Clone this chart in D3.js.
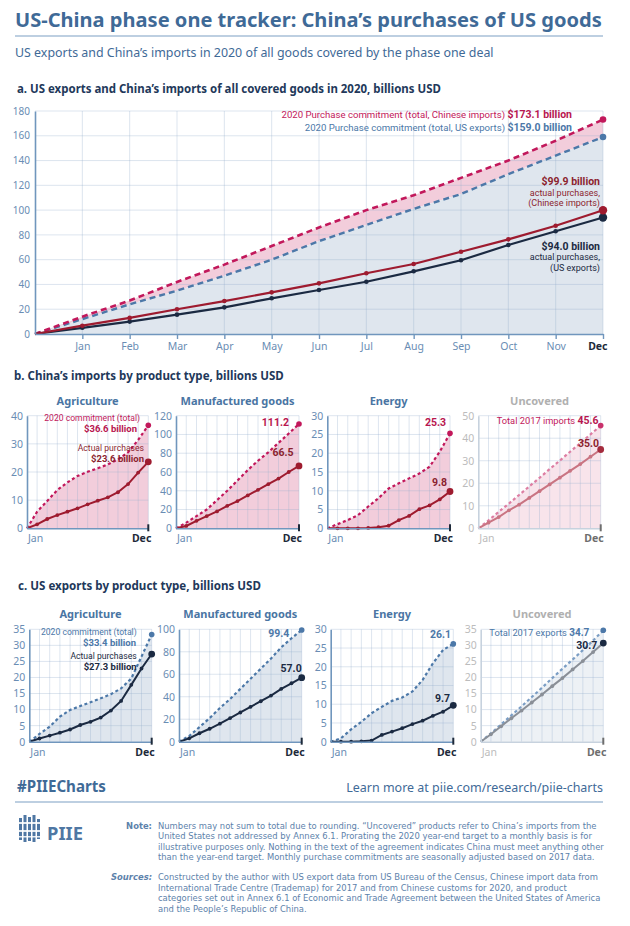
<!DOCTYPE html>
<html><head><meta charset="utf-8">
<script src="https://cdn.jsdelivr.net/npm/d3@7"></script>
<style>body{margin:0;background:#fff}svg{display:block}text{font-family:"Noto Sans",sans-serif}</style>
</head><body><svg id="c" width="630" height="926"></svg>
<script>
// ---------- DATA ----------
const months = ["Jan","Feb","Mar","Apr","May","Jun","Jul","Aug","Sep","Oct","Nov","Dec"];
// Panel a (cumulative, billions USD)
const aImportsCommit = [14, 27, 42, 56, 71, 86, 100, 112, 126, 140, 156, 173.1];
const aExportsCommit = [12, 24, 35, 47, 60, 75, 88, 101, 113, 129, 144, 159.0];
const aImportsActual = [6.7, 13, 20, 26.6, 33.6, 40.9, 49, 56.5, 66.4, 76.4, 87.4, 99.9];
const aExportsActual = [5, 10, 15.6, 21.5, 28.8, 35.5, 42.2, 50.6, 59.5, 71.8, 82.9, 94.0];
const aYTicks = [0,20,40,60,80,100,120,140,160,180];
// Panel b: China's imports by product type
const bAgriCommit  = [5.9, 9.7, 13.6, 16.3, 18.6, 20.1, 21.3, 22.7, 24.5, 27, 31.4, 36.6];
const bAgriActual  = [1.4, 3.3, 4.7, 5.9, 7.1, 8.5, 9.8, 11, 12.8, 15.7, 19.8, 23.6];
const bManuCommit  = [6, 13, 20, 30, 40, 51, 62, 72, 81, 91, 101, 111.2];
const bManuActual  = [2.5, 8, 13, 18, 24, 29, 35, 41, 47, 53, 60, 66.5];
const bEnerCommit  = [1.1, 2.2, 3.5, 5.8, 8, 10.6, 12, 13.3, 14.6, 16.4, 20.4, 25.3];
const bEnerActual  = [0, 0, 0, 0.1, 0.3, 0.7, 2.2, 3.3, 5.1, 6.1, 7.7, 9.8];
const bUncovTotal  = [3.5, 7.3, 11, 14.8, 18.6, 22.4, 26.3, 30.1, 34, 37.8, 41.7, 45.6];
const bUncovActual = [2.5, 5, 8, 10.5, 13.5, 16.5, 19.5, 22.5, 25.5, 28.5, 31.8, 35.0];
// Panel c: US exports by product type
const cAgriCommit  = [2.4, 4.7, 7.8, 9.9, 11.1, 12.3, 13.5, 14.8, 16.6, 19.7, 26.5, 33.4];
const cAgriActual  = [1, 1.9, 2.8, 3.8, 5.2, 6.2, 7.5, 9.7, 12.7, 17.7, 22.8, 27.3];
const cManuCommit  = [5, 13, 21, 30, 38, 47, 56, 65, 74, 84, 92, 99.4];
const cManuActual  = [3, 7.5, 11.5, 16, 21, 26, 31, 36, 41, 47, 52, 57.0];
const cEnerCommit  = [0.9, 3.3, 5.3, 7.6, 9.3, 10.9, 11.8, 13.4, 16.5, 20.9, 24.5, 26.1];
const cEnerActual  = [0, 0, 0.1, 0.3, 1.8, 2.7, 3.6, 4.7, 5.6, 6.9, 8.0, 9.7];
const cUncovTotal  = [2.6, 5.4, 8.2, 11, 13.9, 16.8, 19.8, 22.7, 25.6, 28.5, 31.5, 34.7];
const cUncovActual = [2.3, 4.8, 7.3, 9.7, 12.2, 14.7, 17.3, 19.8, 22.5, 25.1, 27.9, 30.7];

const noteLines = [
 "Numbers may not sum to total due to rounding. \u201CUncovered\u201D products refer to China\u2019s imports from the",
 "United States not addressed by Annex 6.1. Prorating the 2020 year-end target to a monthly basis is for",
 "illustrative purposes only. Nothing in the text of the agreement indicates China must meet anything other",
 "than the year-end target. Monthly purchase commitments are seasonally adjusted based on 2017 data."];
const sourceLines = [
 "Constructed by the author with US export data from US Bureau of the Census, Chinese import data from",
 "International Trade Centre (Trademap) for 2017 and from Chinese customs for 2020, and product",
 "categories set out in Annex 6.1 of Economic and Trade Agreement between the United States of America",
 "and the People\u2019s Republic of China."];

// ---------- STYLE ----------
const TITLE="#3f6a97", HEAD="#22385a", AXIS="#7096bd", TICK="#6a8db4";
const MAG="#c2185b", MAGT="#b8164f", RED="#9e1b2f", REDT="#8b1f2f", NAVY="#1b2a42", BLUE="#4c78a8";
const PINK="#f2cddb", BG="#dfe6ee", GRID="rgba(150,175,205,0.32)";
const ANNF="Roboto, sans-serif", NOTEF="'DejaVu Sans', sans-serif";

const svg=d3.select("#c");
svg.append("rect").attr("width",630).attr("height",926).attr("fill","#fff");

function txt(g,x,y,s,o={}){
  const t=g.append("text").attr("x",x).attr("y",y).text(s)
    .attr("font-size",o.size||10).attr("font-weight",o.weight||400)
    .attr("fill",o.fill||"#000").attr("text-anchor",o.anchor||"start");
  if(o.italic) t.attr("font-style","italic");
  if(o.family) t.style("font-family",o.family);
  return t;
}
function fit(t,w){const l=t.node().getComputedTextLength();if(l>0){t.attr("font-size",(parseFloat(t.attr("font-size"))*w/l).toFixed(2));}return t;}
// annotation line: one text element, parts as tspans
function ann(g,x,y,parts,anchor){
  const t=g.append("text").attr("x",x).attr("y",y).attr("text-anchor",anchor||"end").style("font-family",ANNF);
  parts.forEach(p=>t.append("tspan").text(p.t).attr("font-weight",p.b?700:400).attr("fill",p.c).attr("font-size",p.s||(p.b?9.5:8.6)));
  return t;
}

// ---------- HEADER ----------
fit(txt(svg,15,27,"US-China phase one tracker: China\u2019s purchases of US goods",{size:21,weight:700,fill:TITLE}),587);
svg.append("line").attr("x1",15).attr("x2",603).attr("y1",36).attr("y2",36).attr("stroke","#7d9fc3").attr("stroke-width",1.2);
fit(txt(svg,15,57,"US exports and China\u2019s imports in 2020 of all goods covered by the phase one deal",{size:12,fill:TITLE}),479);

// ---------- PANEL A ----------
fit(txt(svg,17,93,"a. US exports and China\u2019s imports of all covered goods in 2020, billions USD",{size:12,weight:700,fill:HEAD}),424);
const ga=svg.append("g");
const ax=d3.scaleLinear().domain([0,12]).range([35,603]);
const ay=d3.scaleLinear().domain([0,180]).range([334,111]);
const z=a=>[0].concat(a);
const areaBetween=d3.area().x((d,i)=>ax(i)).y0(d=>ay(d[1])).y1(d=>ay(d[0]));
const pairs=z(aImportsCommit).map((v,i)=>[v,z(aExportsCommit)[i]]);
ga.append("path").attr("d",areaBetween(pairs)).attr("fill",PINK);
ga.append("path").attr("d",d3.area().x((d,i)=>ax(i)).y0(ay(0)).y1(d=>ay(d))(z(aExportsCommit))).attr("fill",BG);
// grid
ga.selectAll(null).data(aYTicks.slice(1)).join("line").attr("x1",35).attr("x2",603).attr("y1",d=>ay(d)).attr("y2",d=>ay(d)).attr("stroke",GRID);
ga.selectAll(null).data(d3.range(1,13)).join("line").attr("x1",d=>ax(d)).attr("x2",d=>ax(d)).attr("y1",ay(0)).attr("y2",ay(180)).attr("stroke",GRID);
const la=d3.line().x((d,i)=>ax(i)).y(d=>ay(d));
ga.append("path").attr("d",la(z(aExportsCommit))).attr("fill","none").attr("stroke",BLUE).attr("stroke-width",2.4).attr("stroke-dasharray","6,4");
ga.append("path").attr("d",la(z(aImportsCommit))).attr("fill","none").attr("stroke",MAG).attr("stroke-width",2.6).attr("stroke-dasharray","6,4");
ga.append("path").attr("d",la(z(aExportsActual))).attr("fill","none").attr("stroke",NAVY).attr("stroke-width",2.2);
ga.append("path").attr("d",la(z(aImportsActual))).attr("fill","none").attr("stroke",RED).attr("stroke-width",2.2);
[[aExportsActual,NAVY],[aImportsActual,RED]].forEach(([arr,c])=>{
  ga.selectAll(null).data(arr).join("circle").attr("cx",(d,i)=>ax(i+1)).attr("cy",d=>ay(d)).attr("r",(d,i)=>i===11?4.2:2.3).attr("fill",c);
});
[[aExportsCommit,BLUE],[aImportsCommit,MAG]].forEach(([arr,c])=>{
  ga.append("circle").attr("cx",ax(12)).attr("cy",ay(arr[11])).attr("r",3.3).attr("fill",c);
});
// axes
const ya=ga.append("g").attr("transform","translate(35,0)").call(d3.axisLeft(ay).tickValues(aYTicks).tickSize(0).tickPadding(5));
ya.select(".domain").attr("stroke",AXIS).attr("stroke-width",1.6);
ya.selectAll("text").attr("fill",TICK).attr("font-size",10).attr("font-family","Noto Sans");
const xa=ga.append("g").attr("transform","translate(0,334)").call(d3.axisBottom(ax).tickValues(d3.range(1,13)).tickFormat(d=>months[d-1]).tickSize(5).tickSizeOuter(0).tickPadding(4));
xa.select(".domain").attr("stroke",AXIS).attr("stroke-width",1.6);
xa.selectAll("line").attr("stroke",AXIS).attr("stroke-width",1.4);
xa.selectAll("text").attr("fill",TICK).attr("font-size",10.5).attr("font-family","Noto Sans");
xa.selectAll("text").filter(d=>d===12).attr("font-weight",700).attr("fill","#1e2a3a").attr("text-anchor","end").attr("x",4);
// annotations
ann(ga,572,118,[{t:"2020 Purchase commitment (total, Chinese imports) ",c:MAG,s:9.6},{t:"$173.1 billion",b:1,c:MAGT,s:10.5}]);
ann(ga,572,130.5,[{t:"2020 Purchase commitment (total, US exports) ",c:BLUE,s:9.6},{t:"$159.0 billion",b:1,c:BLUE,s:10.5}]);
ann(ga,600,185,[{t:"$99.9 billion",b:1,c:REDT,s:10.5}]);
ann(ga,600,195.6,[{t:"actual purchases,",c:REDT,s:9}]);
ann(ga,600,206.2,[{t:"(Chinese imports)",c:REDT,s:9}]);
ann(ga,600,249.5,[{t:"$94.0 billion",b:1,c:NAVY,s:10.5}]);
ann(ga,600,260.1,[{t:"actual purchases,",c:NAVY,s:9}]);
ann(ga,600,270.7,[{t:"(US exports)",c:NAVY,s:9}]);

// ---------- SMALL MULTIPLES ----------
function small(cfg){
  const g=svg.append("g");
  const x=d3.scaleLinear().domain([0,12]).range([cfg.x0,cfg.x1]);
  const y=d3.scaleLinear().domain([0,cfg.max]).range([cfg.yb,cfg.yt]);
  const cd=z(cfg.commit), ad=z(cfg.actual);
  g.append("path").attr("d",d3.area().x((d,i)=>x(i)).y0(y(0)).y1(d=>y(d))(cd)).attr("fill",cfg.fill);
  g.selectAll(null).data(cfg.ticks.slice(1)).join("line").attr("x1",cfg.x0).attr("x2",cfg.x1).attr("y1",d=>y(d)).attr("y2",d=>y(d)).attr("stroke",GRID);
  g.selectAll(null).data(d3.range(1,13)).join("line").attr("x1",d=>x(d)).attr("x2",d=>x(d)).attr("y1",cfg.yb).attr("y2",cfg.yt).attr("stroke",GRID);
  const l=d3.line().x((d,i)=>x(i)).y(d=>y(d));
  g.append("path").attr("d",l(cd)).attr("fill","none").attr("stroke",cfg.cCol).attr("stroke-width",2.2).attr("stroke-dasharray","3,2.6");
  g.append("path").attr("d",l(ad)).attr("fill","none").attr("stroke",cfg.aCol).attr("stroke-width",2);
  g.selectAll(null).data(cfg.actual).join("circle").attr("cx",(d,i)=>x(i+1)).attr("cy",d=>y(d)).attr("r",(d,i)=>i===11?3.4:1.9).attr("fill",(d,i)=>i===11?cfg.aEnd:cfg.aCol);
  g.append("circle").attr("cx",x(12)).attr("cy",y(cfg.commit[11])).attr("r",2.8).attr("fill",cfg.cEnd);
  const yA=g.append("g").attr("transform",`translate(${cfg.x0},0)`).call(d3.axisLeft(y).tickValues(cfg.ticks).tickSize(0).tickPadding(4));
  yA.select(".domain").attr("stroke",cfg.axis).attr("stroke-width",1.6);
  yA.selectAll("text").attr("fill",cfg.tick).attr("font-size",10.5).attr("font-family","Noto Sans");
  const xA=g.append("g").attr("transform",`translate(0,${cfg.yb})`).call(d3.axisBottom(x).tickValues([]).tickSizeOuter(0));
  xA.select(".domain").attr("stroke",cfg.axis).attr("stroke-width",1.6);
  g.append("line").attr("x1",x(12)).attr("x2",x(12)).attr("y1",cfg.yb-4).attr("y2",cfg.yb+3).attr("stroke",cfg.decTick).attr("stroke-width",2);
  txt(g,cfg.x0+1,cfg.yb+14,months[0],{size:10.5,fill:cfg.tick});
  txt(g,x(12)+3,cfg.yb+14,months[11],{size:10.5,weight:700,fill:cfg.dec,anchor:"end"});
  txt(g,(cfg.x0+cfg.x1)/2,cfg.yt-11,cfg.title,{size:11,weight:700,fill:cfg.titleCol,anchor:"middle"});
  (cfg.notes||[]).forEach(n=>ann(g,n.x,n.y,n.parts));
}
const bBase={yt:415.7,yb:528.3,fill:PINK,cCol:MAG,aCol:RED,cEnd:MAG,aEnd:RED,axis:AXIS,tick:TICK,dec:"#1e2a3a",decTick:"#1e2a3a",titleCol:"#4a75a3"};
const bUnc={fill:"#f8e4eb",cCol:"#dd7ea3",aCol:"#c97482",cEnd:"#c9326c",aEnd:"#a42b3d",axis:"#c7d2de",tick:"#bcbcbc",dec:"#6e6e6e",decTick:"#6e6e6e",titleCol:"#b0b0b0"};
fit(txt(svg,14,380,"b. China\u2019s imports by product type, billions USD",{size:12,weight:700,fill:HEAD}),270);
small({...bBase,x0:27,x1:148.3,max:40,ticks:[0,10,20,30,40],commit:bAgriCommit,actual:bAgriActual,title:"Agriculture",
  notes:[{x:140,y:421,parts:[{t:"2020 commitment (total)",c:MAG}]},{x:137,y:432,parts:[{t:"$36.6 billion",b:1,c:MAGT}]},
         {x:144,y:450.5,parts:[{t:"Actual purchases",c:REDT}]},{x:144,y:461.5,parts:[{t:"$23.6 billion",b:1,c:REDT}]}]});
small({...bBase,x0:176,x1:299,max:120,ticks:[0,20,40,60,80,100,120],commit:bManuCommit,actual:bManuActual,title:"Manufactured goods",
  notes:[{x:289,y:425.5,parts:[{t:"111.2",b:1,c:MAGT,s:10.5}]},{x:293.5,y:456,parts:[{t:"66.5",b:1,c:REDT,s:10.5}]}]});
small({...bBase,x0:327.3,x1:450,max:30,ticks:[0,5,10,15,20,25,30],commit:bEnerCommit,actual:bEnerActual,title:"Energy",
  notes:[{x:446,y:425.5,parts:[{t:"25.3",b:1,c:MAGT,s:10.5}]},{x:447,y:486,parts:[{t:"9.8",b:1,c:REDT,s:10.5}]}]});
small({...bBase,...bUnc,x0:478.3,x1:600.7,max:50,ticks:[0,10,20,30,40,50],commit:bUncovTotal,actual:bUncovActual,title:"Uncovered",
  notes:[{x:598.5,y:423.5,parts:[{t:"Total 2017 imports ",c:MAG,s:9.3},{t:"45.6",b:1,c:MAGT,s:10.5}]},{x:599,y:447,parts:[{t:"35.0",b:1,c:REDT,s:10.5}]}]});

const cBase={yt:629.3,yb:741.7,fill:BG,cCol:BLUE,aCol:NAVY,cEnd:BLUE,aEnd:NAVY,axis:AXIS,tick:TICK,dec:"#1e2a3a",decTick:"#1e2a3a",titleCol:"#4a75a3"};
const cUnc={fill:"#edf1f5",cCol:"#7a9dc4",aCol:"#8a8f97",cEnd:"#4c78a8",aEnd:NAVY,axis:"#c7d2de",tick:"#bcbcbc",dec:"#6e6e6e",decTick:"#6e6e6e",titleCol:"#b0b0b0"};
fit(txt(svg,18,590,"c. US exports by product type, billions USD",{size:12,weight:700,fill:HEAD}),243);
small({...cBase,x0:29.3,x1:151.7,max:35,ticks:[0,5,10,15,20,25,30,35],commit:cAgriCommit,actual:cAgriActual,title:"Agriculture",
  notes:[{x:136.7,y:635,parts:[{t:"2020 commitment (total)",c:BLUE}]},{x:136,y:646,parts:[{t:"$33.4 billion",b:1,c:BLUE}]},
         {x:136.7,y:658.5,parts:[{t:"Actual purchases",c:NAVY}]},{x:136.7,y:669.5,parts:[{t:"$27.3 billion",b:1,c:NAVY}]}]});
small({...cBase,x0:179,x1:301.7,max:100,ticks:[0,20,40,60,80,100],commit:cManuCommit,actual:cManuActual,title:"Manufactured goods",
  notes:[{x:289.3,y:637,parts:[{t:"99.4",b:1,c:BLUE,s:10.5}]},{x:301.7,y:671.5,parts:[{t:"57.0",b:1,c:NAVY,s:10.5}]}]});
small({...cBase,x0:330.7,x1:453.3,max:30,ticks:[0,5,10,15,20,25,30],commit:cEnerCommit,actual:cEnerActual,title:"Energy",
  notes:[{x:451,y:638,parts:[{t:"26.1",b:1,c:BLUE,s:10.5}]},{x:450,y:702,parts:[{t:"9.7",b:1,c:NAVY,s:10.5}]}]});
small({...cBase,...cUnc,x0:480.7,x1:603.3,max:35,ticks:[0,5,10,15,20,25,30,35],commit:cUncovTotal,actual:cUncovActual,title:"Uncovered",
  notes:[{x:589.3,y:636,parts:[{t:"Total 2017 exports ",c:BLUE,s:9.3},{t:"34.7",b:1,c:BLUE,s:10}]},{x:597.3,y:648.5,parts:[{t:"30.7",b:1,c:NAVY,s:10.5}]}]});

// ---------- FOOTER ----------
fit(txt(svg,17,791.5,"#PIIECharts",{size:14,weight:700,fill:TITLE}),89);
fit(txt(svg,603,792,"Learn more at piie.com/research/piie-charts",{size:13,fill:TITLE,anchor:"end"}),257);
svg.append("line").attr("x1",15).attr("x2",603).attr("y1",802).attr("y2",802).attr("stroke","#7d9fc3").attr("stroke-width",1.2);
// logo
const lg=svg.append("g").attr("fill","#4f77a3");
[[19,818,3,22],[23.5,815,3,27],[28,817,3,24],[32.5,815,3,27],[37,819,3,20]].forEach(r=>lg.append("rect").attr("x",r[0]).attr("y",r[1]).attr("width",r[2]).attr("height",r[3]));
[[18,822,23,2],[18,830,23,2],[18,836,23,1.5]].forEach(r=>lg.append("rect").attr("x",r[0]).attr("y",r[1]).attr("width",r[2]).attr("height",r[3]).attr("fill","#fff").attr("opacity",0.85));
fit(txt(svg,47,840,"PIIE",{size:22,weight:700,fill:"#4f77a3"}),36);
const NC="#5d82ab";
const probe=fit(txt(svg,158,0,noteLines[2],{size:9,fill:NC,family:NOTEF}),446);
const nfs=probe.attr("font-size"); probe.remove();
txt(svg,152,828.5,"Note:",{size:nfs,weight:700,fill:NC,anchor:"end",family:NOTEF});
noteLines.forEach((s,i)=>txt(svg,158,828.5+i*10.5,s,{size:nfs,fill:NC,family:NOTEF}));
txt(svg,152,880,"Sources:",{size:nfs,weight:700,fill:NC,anchor:"end",italic:true,family:NOTEF});
sourceLines.forEach((s,i)=>txt(svg,158,880+i*10.5,s,{size:nfs,fill:NC,family:NOTEF}));
</script></body></html>
